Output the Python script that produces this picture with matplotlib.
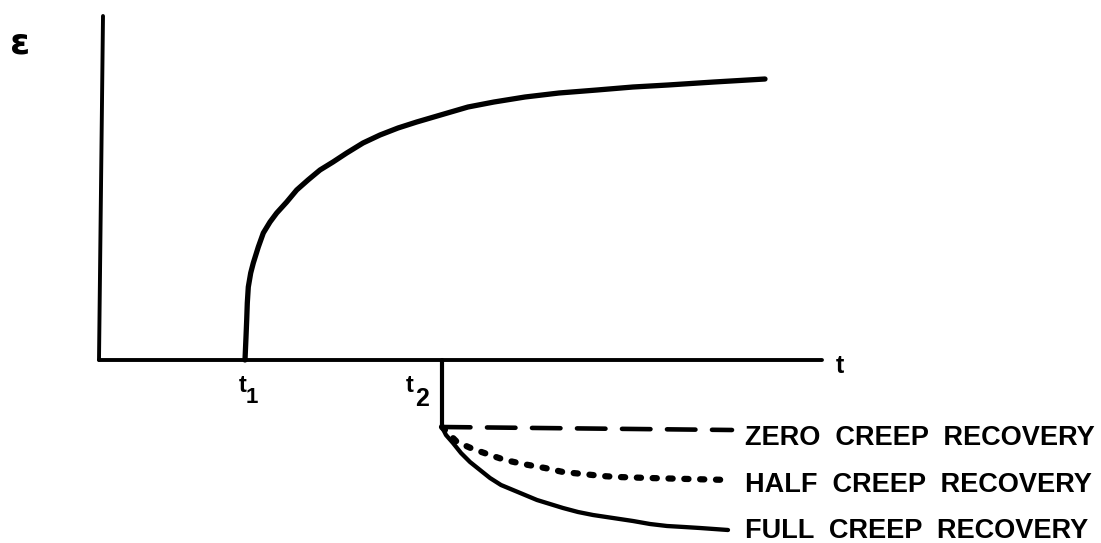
import matplotlib
matplotlib.use("Agg")
import matplotlib.pyplot as plt

plt.rcParams['lines.scale_dashes'] = False

# Кривая ползучести (t, ε) после приложения нагрузки в момент t1
creep_t = [14.6, 14.7, 14.77, 14.83, 14.93, 15.17, 15.43, 15.93, 16.43, 17.1,
           17.77, 18.77, 19.77, 20.9, 22.1, 23.4, 24.77, 26.4, 28.1, 29.9,
           31.77, 34.5, 36.9, 39.5, 42.6, 46.0, 49.8, 53.4, 56.9, 61.5, 66.6]
creep_eps = [0.0, 2.3, 4.0, 5.7, 7.3, 8.7, 9.7, 11.3, 12.7, 13.8,
             14.7, 15.8, 17.0, 18.0, 19.0, 19.8, 20.7, 21.7, 22.5, 23.2,
             23.8, 24.6, 25.3, 25.8, 26.3, 26.7, 27.0, 27.3, 27.5, 27.8, 28.1]

# Моменты нагружения и разгрузки
t1 = 14.6
t2 = 34.3
drop_eps = -6.7  # мгновенный упругий возврат в момент t2

# Варианты восстановления после разгрузки
zero_t = [t2, 63.3]
zero_eps = [drop_eps, -7.0]

half_t = [t2, 35.8, 37.4, 39.1, 40.6, 42.4, 44.6, 46.4, 48.4, 50.3, 51.9,
          55.0, 59.0, 63.1]
half_eps = [drop_eps, -8.2, -8.9, -9.5, -10.0, -10.4, -10.8, -11.2, -11.4,
            -11.6, -11.7, -11.8, -11.9, -12.0]

full_t = [t2, 34.7, 35.4, 36.2, 37.1, 38.1, 39.1, 40.2, 41.4, 42.6, 43.8,
          45.1, 46.4, 47.9, 49.4, 51.4, 53.4, 55.1, 56.8, 58.5, 60.1, 62.9]
full_eps = [drop_eps, -7.5, -8.3, -9.3, -10.2, -11.0, -11.8, -12.5, -13.0,
            -13.5, -14.0, -14.4, -14.8, -15.2, -15.5, -15.8, -16.1, -16.4,
            -16.6, -16.7, -16.8, -17.0]

labels = ['ZERO  CREEP  RECOVERY', 'HALF  CREEP  RECOVERY', 'FULL  CREEP  RECOVERY']
label_eps = [-8.5, -13.2, -17.8]

T_MAX = 72.3
EPS_MAX = 34.4

fig = plt.figure(figsize=(11.01, 5.43), dpi=100)
ax = fig.add_axes([0, 0, 1, 1])
ax.set_xlim(-9.9, 100.2)
ax.set_ylim(-18.3, 36.0)
ax.axis('off')

# оси
ax.plot([0, 0.4], [0, EPS_MAX], color='black', lw=2.8, solid_capstyle='round')
ax.plot([0, T_MAX], [0, 0], color='black', lw=2.8, solid_capstyle='round')

# ползучесть
ax.plot(creep_t, creep_eps, color='black', lw=3.8,
        solid_capstyle='round', solid_joinstyle='round')

# разгрузка
ax.plot([t2, t2], [0, drop_eps], color='black', lw=3.0, solid_capstyle='round')
ax.plot(zero_t, zero_eps, color='black', lw=3.3,
        linestyle=(0, (20.5, 11.9)), dash_capstyle='round')
ax.plot(half_t, half_eps, color='black', lw=4.5,
        linestyle=(0, (3.0, 8.4)), dash_capstyle='round')
ax.plot(full_t, full_eps, color='black', lw=3.1,
        solid_capstyle='round', solid_joinstyle='round')

font = dict(family=['Liberation Sans', 'DejaVu Sans'], fontweight='bold', color='black')

for text, y in zip(labels, label_eps):
    ax.text(64.6, y, text, fontsize=19.5, ha='left', va='baseline', **font)

ax.text(-7.9, 30.7, 'ε', fontsize=26, ha='center', va='baseline',
        family='DejaVu Sans', fontweight='bold')
ax.text(74.1, -1.3, 't', fontsize=18, ha='center', va='baseline', **font)

ax.text(14.4, -3.2, 't', fontsize=17, ha='center', va='baseline', **font)
ax.text(15.3, -4.3, '1', fontsize=16, ha='center', va='baseline', **font)
ax.text(31.1, -3.2, 't', fontsize=17, ha='center', va='baseline', **font)
ax.text(32.3, -4.6, '2', fontsize=18, ha='center', va='baseline', **font)

plt.savefig('out.png', dpi=100)
